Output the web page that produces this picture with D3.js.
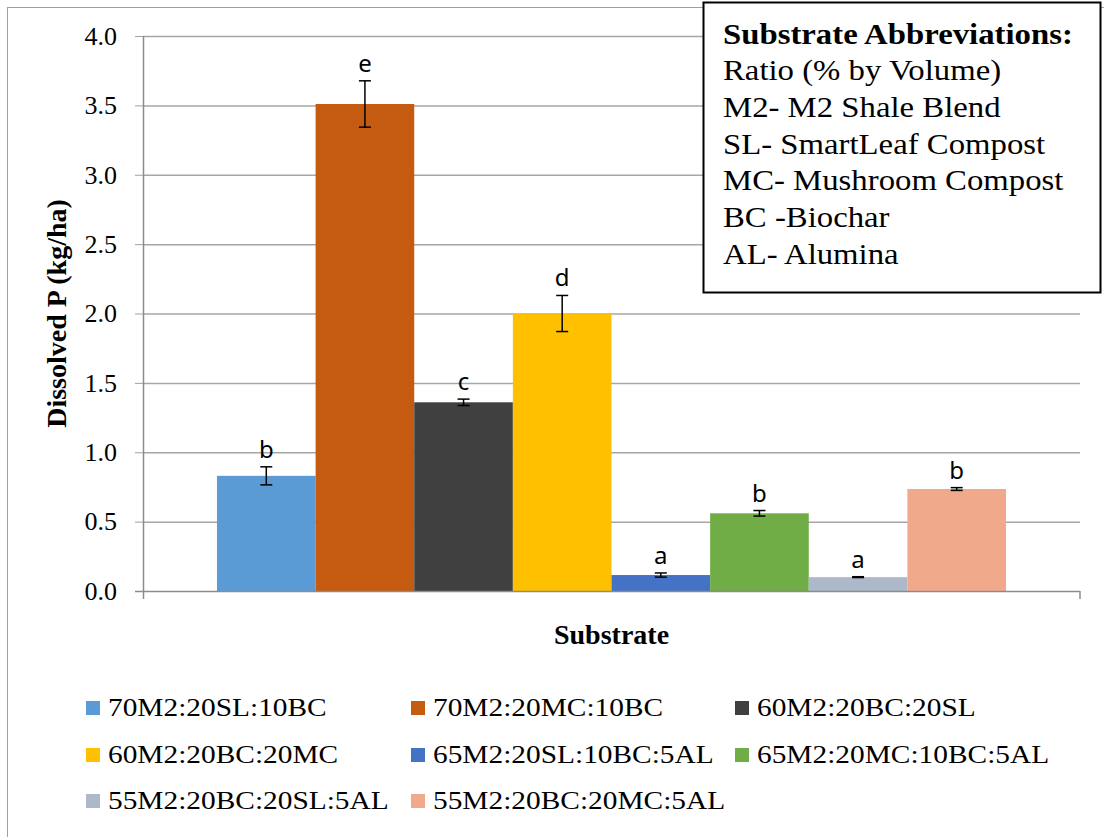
<!DOCTYPE html>
<html>
<head>
<meta charset="utf-8">
<script src="https://cdn.jsdelivr.net/npm/d3@7"></script>
<style>
  body { margin: 0; background: #fff; }
  svg { display: block; }
  .serif { font-family: "Liberation Serif", "Times New Roman", serif; fill: #000; }
  .sig { font-family: "Noto Sans", "Liberation Sans", sans-serif; fill: #000; }
</style>
</head>
<body>
<svg width="1104" height="837"></svg>
<script>
// substrates (one bar each)
const substrates = ["70M2:20SL:10BC", "70M2:20MC:10BC", "60M2:20BC:20SL", "60M2:20BC:20MC",
  "65M2:20SL:10BC:5AL", "65M2:20MC:10BC:5AL", "55M2:20BC:20SL:5AL", "55M2:20BC:20MC:5AL"];
const dissolvedP = [0.83, 3.51, 1.36, 2.00, 0.115, 0.56, 0.10, 0.735];
const errP = [0.065, 0.167, 0.023, 0.13, 0.015, 0.02, 0.003, 0.01];
const sigLetters = ["b", "e", "c", "d", "a", "b", "a", "b"];
const barColors = ["#5B9BD5", "#C55A11", "#404040", "#FFC000", "#4472C4", "#70AD47", "#ADB9CA", "#F0A98A"];
const yTicks = [0, 0.5, 1, 1.5, 2, 2.5, 3, 3.5, 4];
const abbrevLines = ["Ratio (% by Volume)", "M2- M2 Shale Blend", "SL- SmartLeaf Compost",
  "MC- Mushroom Compost", "BC -Biochar", "AL- Alumina"];

const svg = d3.select("svg"),
    plot = {left: 143, right: 1080, top: 36, bottom: 591},
    stretch = 1.13; // source text is a bit wider than Liberation Serif

// outer chart frame
svg.append("rect")
    .attr("x", 7.5).attr("y", 7.5)
    .attr("width", 1120).attr("height", 850)
    .attr("fill", "none").attr("stroke", "#a0a0a0");

const y = d3.scaleLinear().domain([0, 4]).range([plot.bottom, plot.top]);
const x = d3.scaleBand().domain(substrates)
    .range([plot.left, plot.right])
    .paddingInner(0).paddingOuter(0.75);

// gridlines + y axis
const yAxis = d3.axisLeft(y).tickValues(yTicks).tickFormat(d3.format(".1f"))
    .tickSize(8).tickPadding(18);
const gy = svg.append("g")
    .attr("transform", `translate(${plot.left},0)`)
    .call(yAxis);
gy.select(".domain").remove();
gy.selectAll(".tick line").attr("stroke", "#a0a0a0");
gy.selectAll(".tick text").attr("class", "serif").style("font-size", "26px").attr("fill", "#000");

svg.append("g").selectAll("line")
    .data(yTicks.filter(d => d > 0))
    .join("line")
    .attr("x1", plot.left).attr("x2", plot.right)
    .attr("y1", d => y(d) + 0.5).attr("y2", d => y(d) + 0.5)
    .attr("stroke", "#a6a6a6").attr("stroke-width", 1.5);

// bars
svg.append("g").selectAll("rect")
    .data(substrates)
    .join("rect")
    .attr("x", d => x(d))
    .attr("width", x.bandwidth())
    .attr("y", (d, i) => y(dissolvedP[i]))
    .attr("height", (d, i) => y(0) - y(dissolvedP[i]))
    .attr("fill", (d, i) => barColors[i]);

// axis lines
svg.append("line")
    .attr("x1", plot.left + 0.5).attr("x2", plot.left + 0.5)
    .attr("y1", plot.top).attr("y2", plot.bottom + 8)
    .attr("stroke", "#8c8c8c").attr("stroke-width", 1.5);
svg.append("line")
    .attr("x1", plot.left - 8).attr("x2", plot.right)
    .attr("y1", plot.bottom + 0.5).attr("y2", plot.bottom + 0.5)
    .attr("stroke", "#8c8c8c").attr("stroke-width", 1.5);
svg.append("line")
    .attr("x1", plot.right).attr("x2", plot.right)
    .attr("y1", plot.bottom).attr("y2", plot.bottom + 8)
    .attr("stroke", "#8c8c8c").attr("stroke-width", 1.5);

// error bars
const eb = svg.append("g").attr("stroke", "#000").attr("stroke-width", 1.5);
substrates.forEach((s, i) => {
    const cx = x(s) + x.bandwidth() / 2,
        hi = y(dissolvedP[i] + errP[i]),
        lo = y(dissolvedP[i] - errP[i]);
    eb.append("line").attr("x1", cx).attr("x2", cx).attr("y1", hi).attr("y2", lo);
    eb.append("line").attr("x1", cx - 6).attr("x2", cx + 6).attr("y1", hi).attr("y2", hi);
    eb.append("line").attr("x1", cx - 6).attr("x2", cx + 6).attr("y1", lo).attr("y2", lo);
});

// significance letters
svg.append("g").selectAll("text")
    .data(substrates)
    .join("text")
    .attr("class", "sig")
    .attr("x", d => x(d) + x.bandwidth() / 2)
    .attr("y", (d, i) => y(dissolvedP[i] + errP[i]) - 9)
    .attr("text-anchor", "middle")
    .style("font-size", "24px")
    .text((d, i) => sigLetters[i]);

// axis titles
svg.append("text")
    .attr("class", "serif")
    .attr("transform", `translate(66,${(plot.top + plot.bottom) / 2}) rotate(-90)`)
    .attr("text-anchor", "middle")
    .style("font-size", "28px").style("font-weight", "bold")
    .text("Dissolved P (kg/ha)");
svg.append("text")
    .attr("class", "serif")
    .attr("x", (plot.left + plot.right) / 2).attr("y", 644)
    .attr("text-anchor", "middle")
    .style("font-size", "28px").style("font-weight", "bold")
    .text("Substrate");

// legend, 3 columns
const legend = svg.append("g").selectAll("g")
    .data(substrates)
    .join("g")
    .attr("transform", (d, i) => `translate(${[86, 411, 735][i % 3]},${[716, 763, 809][Math.floor(i / 3)]})`);
legend.append("rect")
    .attr("x", 0).attr("y", -15)
    .attr("width", 14).attr("height", 14)
    .attr("fill", (d, i) => barColors[i]);
legend.append("text")
    .attr("class", "serif")
    .attr("transform", `translate(22,0) scale(${stretch},1)`)
    .style("font-size", "26px")
    .text(d => d);

// abbreviations box
svg.append("rect")
    .attr("x", 703.5).attr("y", 2.5)
    .attr("width", 397).attr("height", 290)
    .attr("fill", "#fff").attr("stroke", "#000").attr("stroke-width", 2);
svg.append("text")
    .attr("class", "serif")
    .attr("transform", `translate(723,44) scale(${stretch},1)`)
    .style("font-size", "29px").style("font-weight", "bold")
    .text("Substrate Abbreviations:");
svg.append("g").selectAll("text")
    .data(abbrevLines)
    .join("text")
    .attr("class", "serif")
    .attr("transform", (d, i) => `translate(723,${80 + i * 36.8}) scale(${stretch},1)`)
    .style("font-size", "29px")
    .text(d => d);
</script>
</body>
</html>
